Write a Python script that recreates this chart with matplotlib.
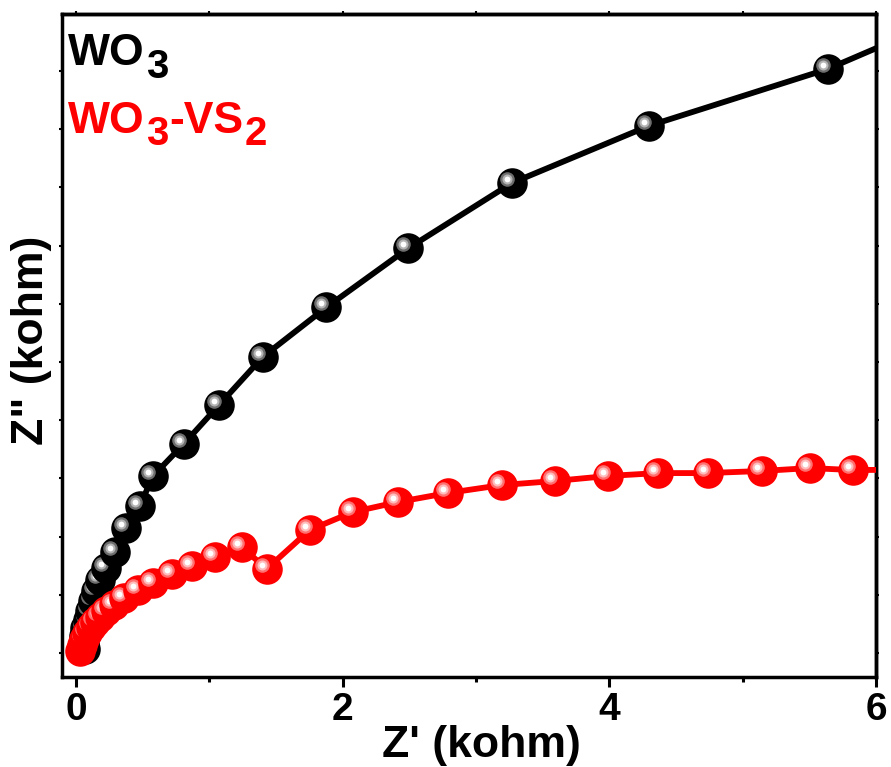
import matplotlib
matplotlib.use('Agg')
import matplotlib.pyplot as plt
from matplotlib.transforms import ScaledTranslation

plt.rcParams['font.family'] = ['Liberation Sans Narrow', 'Liberation Sans', 'DejaVu Sans']
plt.rcParams['font.weight'] = 'bold'

# Nyquist data, kohm (last point of each lies past the right edge)
wo3_x = [0.066, 0.060, 0.058, 0.066, 0.088, 0.103, 0.125, 0.148, 0.178,
         0.228, 0.290, 0.378, 0.478, 0.578, 0.808, 1.073, 1.403, 1.878,
         2.491, 3.269, 4.299, 5.637, 6.93]
wo3_y = [0.034, 0.086, 0.146, 0.215, 0.283, 0.361, 0.447, 0.533, 0.627,
         0.730, 0.868, 1.074, 1.263, 1.521, 1.796, 2.131, 2.546, 2.970,
         3.477, 4.038, 4.530, 5.017, 5.653]

vs2_x = [0.028, 0.043, 0.058, 0.081, 0.110, 0.140, 0.178, 0.223, 0.283,
         0.358, 0.463, 0.575, 0.718, 0.868, 1.040, 1.243, 1.430, 1.753,
         2.075, 2.413, 2.788, 3.193, 3.591, 3.989, 4.364, 4.737, 5.144,
         5.503, 5.827, 6.93]
vs2_y = [0.017, 0.069, 0.120, 0.172, 0.223, 0.266, 0.309, 0.361, 0.412,
         0.473, 0.541, 0.601, 0.679, 0.747, 0.825, 0.911, 0.722, 1.057,
         1.211, 1.297, 1.375, 1.443, 1.478, 1.521, 1.546, 1.546, 1.564,
         1.589, 1.572, 1.58]

W, H = 891, 767
fig = plt.figure(figsize=(W / 100, H / 100), dpi=100)
ax = fig.add_axes([62 / W, 1 - 677 / H, 814 / W, 663 / H])

shift = ax.transData + ScaledTranslation(-5 / 100, 4 / 100, fig.dpi_scale_trans)


def series(xs, ys, body, ring1, ring2, base):
    ax.plot(xs, ys, color=body, lw=4.2, zorder=base, solid_capstyle='butt')
    for i, (x, y) in enumerate(zip(xs, ys)):
        z = base + 0.5 + i * 0.004
        ax.plot([x], [y], 'o', ms=22, color=body, mew=0, zorder=z)
        ax.plot([x], [y], 'o', ms=10.5, color=ring1, mew=0, zorder=z + 0.001, transform=shift)
        ax.plot([x], [y], 'o', ms=7.2, color=ring2, mew=0, zorder=z + 0.002, transform=shift)
        ax.plot([x], [y], 'o', ms=4.2, color='white', mew=0, zorder=z + 0.003, transform=shift)


series(wo3_x, wo3_y, 'black', '#6e6e6e', '#b4b4b4', 2)
series(vs2_x, vs2_y, '#ff0000', '#ff7070', '#ffbcbc', 3)

ax.set_xlim(-0.105, 6)
ax.set_ylim(-0.206, 5.49)
ax.set_xticks([0, 2, 4, 6])
ax.set_xticks([1, 3, 5], minor=True)
ax.set_yticks([i * 0.5 for i in range(11)])
ax.set_yticklabels([])
for s in ax.spines.values():
    s.set_linewidth(2.5)
ax.tick_params(axis='x', which='major', direction='out', length=7, width=2.2,
               labelsize=28, pad=4)
ax.tick_params(axis='x', which='minor', direction='out', length=3.5, width=2.2)
ax.tick_params(axis='y', which='major', direction='out', length=2.5, width=1.5)

top = ax.secondary_xaxis('top')
top.set_xticks([0, 1, 2, 3, 4, 5, 6])
top.tick_params(direction='out', length=2.5, width=1.5, labeltop=False)
right = ax.secondary_yaxis('right')
right.set_yticks([i * 0.5 for i in range(11)])
right.tick_params(direction='out', length=2.5, width=1.5, labelright=False)
top.spines['top'].set_linewidth(2.5)
right.spines['right'].set_linewidth(2.5)

ax.set_xlabel("Z' (kohm)", fontsize=32, fontweight='bold', va='baseline')
ax.xaxis.set_label_coords(0.515, -0.121)
ax.set_ylabel('Z" (kohm)', fontsize=32, fontweight='bold', va='center')
ax.yaxis.set_label_coords(-0.037, 0.508)

# legend-like labels drawn as chained text pieces
renderer = fig.canvas.get_renderer()


def chain(x_px, pieces, color):
    for s, size, base_px in pieces:
        t = fig.text(x_px / W, 1 - base_px / H, s, fontsize=size, color=color,
                     fontweight='bold', ha='left', va='baseline')
        x_px = t.get_window_extent(renderer).x1 + 1


chain(68, [('WO', 32, 65), ('3', 29, 78)], 'black')
chain(68, [('WO', 32, 133), ('3', 29, 145), ('-VS', 32, 133), ('2', 29, 145)], '#ff0000')

fig.savefig('out.png', dpi=100)
